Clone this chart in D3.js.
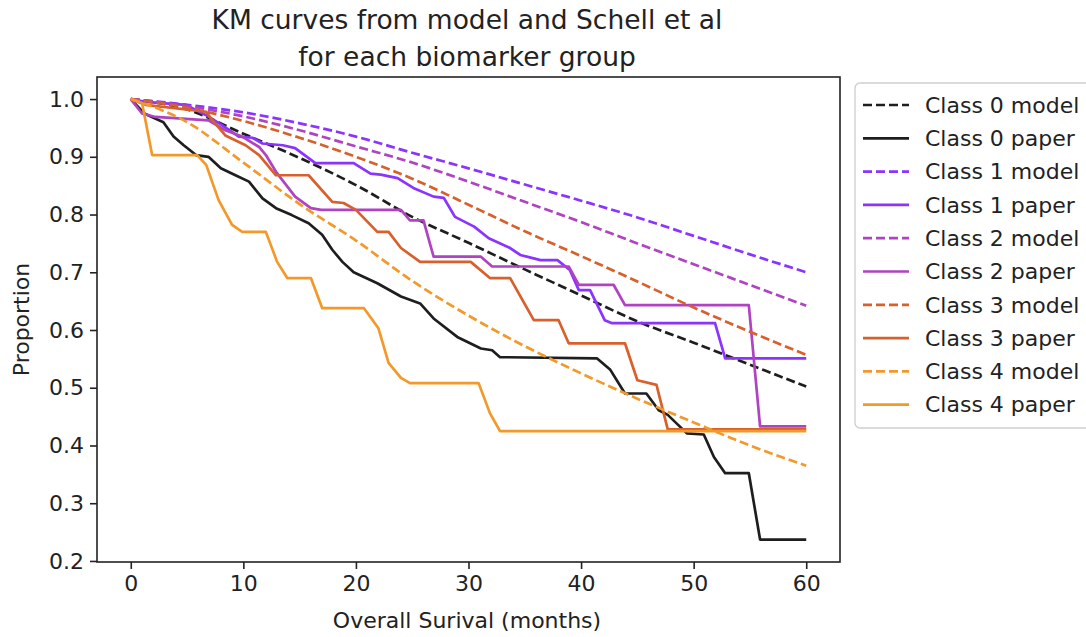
<!DOCTYPE html>
<html>
<head>
<meta charset="utf-8">
<script src="https://cdn.jsdelivr.net/npm/d3@7"></script>
<style>
  body { margin: 0; background: #fff; }
  text { font-family: "DejaVu Sans", sans-serif; }
</style>
</head>
<body>
<div id="chart"></div>
<script>
// months for the smooth model curves
const modelMonths = [0, 5, 10, 15, 20, 25, 30, 35, 40, 45, 50, 55, 60];

// model survival, one array per class
const class0Model = [1.0, 0.982, 0.94, 0.898, 0.851, 0.796, 0.751, 0.705, 0.66, 0.615, 0.578, 0.54, 0.502];
const class1Model = [1.0, 0.99, 0.977, 0.958, 0.935, 0.907, 0.88, 0.852, 0.824, 0.795, 0.763, 0.731, 0.70];
const class2Model = [1.0, 0.988, 0.97, 0.946, 0.918, 0.89, 0.857, 0.822, 0.787, 0.75, 0.714, 0.678, 0.642];
const class3Model = [1.0, 0.985, 0.962, 0.933, 0.9, 0.862, 0.817, 0.771, 0.728, 0.684, 0.639, 0.597, 0.557];
const class4Model = [1.0, 0.96, 0.89, 0.818, 0.755, 0.685, 0.625, 0.572, 0.525, 0.481, 0.44, 0.40, 0.365];

// KM curves from the paper, [month, proportion]
const class0Paper = [[0,1.0],[1.2,0.975],[2.9,0.96],[3.8,0.935],[4.7,0.92],[5.8,0.903],[6.9,0.90],[8,0.88],[9.3,0.868],[10.5,0.857],[11.7,0.828],[12.9,0.811],[14.3,0.799],[15.8,0.785],[17,0.765],[17.9,0.739],[18.8,0.718],[19.8,0.70],[21.9,0.681],[24,0.658],[25.7,0.646],[26.9,0.62],[29,0.588],[31.1,0.568],[32.1,0.565],[32.8,0.553],[41.4,0.551],[42.6,0.531],[43.9,0.49],[45.8,0.49],[46.9,0.461],[47.7,0.453],[49.4,0.421],[50.9,0.419],[51.8,0.38],[52.8,0.352],[54.9,0.352],[55.9,0.237],[60,0.237]];
const class1Paper = [[0,1.0],[1.3,0.995],[4.9,0.99],[6.7,0.972],[8.1,0.955],[9.6,0.935],[10.8,0.933],[11.7,0.923],[13.5,0.92],[14.6,0.915],[16.4,0.889],[19.8,0.889],[21.3,0.871],[22.2,0.869],[23.7,0.863],[25.1,0.846],[26.9,0.831],[27.8,0.829],[28.8,0.796],[30.5,0.779],[31.8,0.759],[33.7,0.742],[34.6,0.73],[36.4,0.721],[37.9,0.721],[39,0.704],[39.8,0.669],[40.8,0.669],[42.1,0.617],[42.7,0.612],[51.9,0.612],[52.8,0.551],[60,0.551]];
const class2Paper = [[0,1.0],[1,0.975],[2.2,0.969],[6.9,0.963],[8.4,0.946],[9.9,0.935],[11.4,0.917],[12,0.903],[12.9,0.874],[14.6,0.831],[16,0.811],[16.9,0.808],[24,0.808],[24.8,0.79],[26,0.79],[26.9,0.727],[31.1,0.727],[32.1,0.71],[38.9,0.71],[39.8,0.678],[42.9,0.678],[43.9,0.643],[54.9,0.643],[55.9,0.433],[60,0.433]];
const class3Paper = [[0,1.0],[1.3,0.99],[6.7,0.978],[7.1,0.967],[8.4,0.937],[10.2,0.92],[11.4,0.903],[12.9,0.868],[15.8,0.868],[17.9,0.822],[18.9,0.82],[20,0.808],[21.9,0.77],[22.9,0.77],[24,0.742],[25.7,0.718],[30.2,0.718],[31.9,0.69],[33.7,0.69],[35.8,0.617],[38,0.617],[38.9,0.577],[43.9,0.577],[45,0.513],[46.7,0.505],[47.7,0.428],[60,0.428]];
const class4Paper = [[0,1.0],[1.0,0.993],[1.9,0.903],[5.9,0.903],[6.7,0.886],[7.8,0.825],[9,0.782],[9.9,0.77],[12,0.77],[13,0.718],[13.9,0.69],[16,0.69],[17,0.638],[20.7,0.638],[22,0.603],[22.9,0.543],[24,0.517],[24.8,0.508],[30.9,0.508],[31.9,0.456],[32.8,0.425],[60,0.425]];

const classNames = ["Class 0", "Class 1", "Class 2", "Class 3", "Class 4"];
const classColors = ["#1e1e1e", "#8b33ff", "#b043c2", "#d8602c", "#f2992a"];
const xTicks = [0, 10, 20, 30, 40, 50, 60];
const yTicks = [0.2, 0.3, 0.4, 0.5, 0.6, 0.7, 0.8, 0.9, 1.0];

const models = [class0Model, class1Model, class2Model, class3Model, class4Model];
const papers = [class0Paper, class1Paper, class2Paper, class3Paper, class4Paper];

const W = 1086, H = 637;
const plot = {left: 97, right: 840, top: 77, bottom: 562};

const svg = d3.select("#chart").append("svg")
    .attr("width", W)
    .attr("height", H);

const x = d3.scaleLinear().domain([-3, 63]).range([plot.left, plot.right]);
const y = d3.scaleLinear().domain([0.1982, 1.0382]).range([plot.bottom, plot.top]);

svg.append("clipPath").attr("id", "clip")
  .append("rect")
    .attr("x", plot.left).attr("y", plot.top)
    .attr("width", plot.right - plot.left)
    .attr("height", plot.bottom - plot.top);

// lines, in the same order as the legend
const series = [];
classNames.forEach((name, i) => {
  series.push({label: name + " model", color: classColors[i], dashed: true,
    pts: modelMonths.map((m, j) => [m, models[i][j]])});
  series.push({label: name + " paper", color: classColors[i], dashed: false,
    pts: papers[i]});
});

const smooth = d3.line().x(d => x(d[0])).y(d => y(d[1])).curve(d3.curveMonotoneX);
const straight = d3.line().x(d => x(d[0])).y(d => y(d[1]));

const lines = svg.append("g").attr("clip-path", "url(#clip)");
series.forEach(s => {
  lines.append("path")
    .attr("d", s.dashed ? smooth(s.pts) : straight(s.pts))
    .attr("fill", "none")
    .attr("stroke", s.color)
    .attr("stroke-width", 2.7)
    .attr("stroke-dasharray", s.dashed ? "9,4" : null)
    .attr("stroke-linejoin", "round");
});

// axes
const xAxis = svg.append("g")
  .attr("transform", `translate(0, ${plot.bottom})`)
  .call(d3.axisBottom(x).tickValues(xTicks).tickSize(7).tickPadding(6).tickSizeOuter(0));
const yAxis = svg.append("g")
  .attr("transform", `translate(${plot.left}, 0)`)
  .call(d3.axisLeft(y).tickValues(yTicks).tickFormat(d3.format(".1f")).tickSize(7).tickPadding(6).tickSizeOuter(0));
[xAxis, yAxis].forEach(a => {
  a.select(".domain").remove();
  a.selectAll(".tick line").attr("stroke", "#222").attr("stroke-width", 1.6);
  a.selectAll(".tick text").attr("fill", "#222").style("font-size", "22px")
    .style("font-family", "DejaVu Sans, sans-serif");
});

// frame
svg.append("rect")
  .attr("x", plot.left).attr("y", plot.top)
  .attr("width", plot.right - plot.left)
  .attr("height", plot.bottom - plot.top)
  .attr("fill", "none").attr("stroke", "#222").attr("stroke-width", 1.6);

// titles and labels
svg.append("text").attr("x", 467).attr("y", 29).attr("text-anchor", "middle")
  .style("font-size", "26.5px").attr("fill", "#222")
  .text("KM curves from model and Schell et al");
svg.append("text").attr("x", 467).attr("y", 66).attr("text-anchor", "middle")
  .style("font-size", "26.5px").attr("fill", "#222")
  .text("for each biomarker group");
svg.append("text").attr("x", 467).attr("y", 628).attr("text-anchor", "middle")
  .style("font-size", "22px").attr("fill", "#222")
  .text("Overall Surival (months)");
svg.append("text")
  .attr("transform", `translate(29, ${(plot.top + plot.bottom) / 2}) rotate(-90)`)
  .attr("text-anchor", "middle")
  .style("font-size", "22px").attr("fill", "#222")
  .text("Proportion");

// legend
const legend = svg.append("g");
legend.append("rect")
  .attr("x", 855).attr("y", 83).attr("width", 240).attr("height", 345)
  .attr("rx", 5).attr("fill", "#fff").attr("stroke", "#d0d0d0").attr("stroke-width", 1.4);
series.forEach((s, i) => {
  const ly = 105 + i * 33.3;
  legend.append("line")
    .attr("x1", 863).attr("x2", 909).attr("y1", ly).attr("y2", ly)
    .attr("stroke", s.color).attr("stroke-width", 2.7)
    .attr("stroke-dasharray", s.dashed ? "9,4" : null);
  legend.append("text")
    .attr("x", 925).attr("y", ly).attr("dy", "0.35em")
    .style("font-size", "22px").attr("fill", "#222")
    .text(s.label);
});
</script>
</body>
</html>
